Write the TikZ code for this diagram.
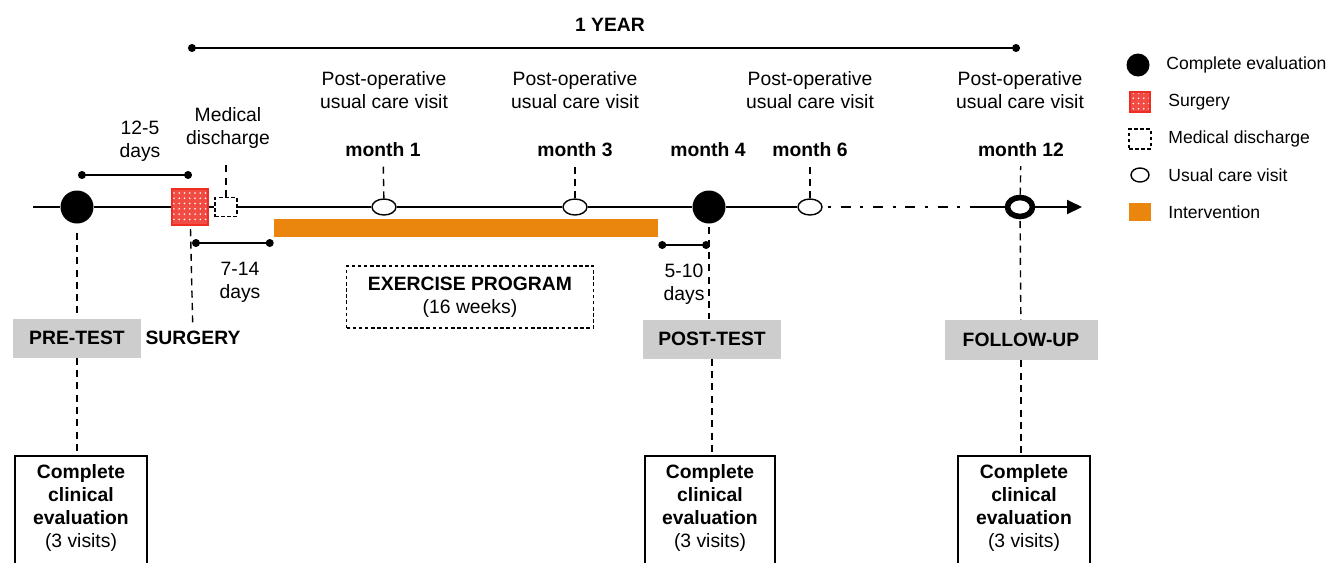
\documentclass[tikz,border=0pt]{standalone}
\usepackage{fontspec}
\setmainfont{Liberation Sans}
\usepackage{xcolor}
\usetikzlibrary{arrows.meta, patterns, shapes, positioning}
\definecolor{barorange}{RGB}{234,134,14}
\definecolor{phasegray}{RGB}{205,205,205}
\definecolor{surgred}{RGB}{238,45,35}
\newcommand{\bodyfont}{\fontsize{11}{13}\selectfont}
\newcommand{\legfont}{\fontsize{10}{12}\selectfont}

\begin{document}
\begin{tikzpicture}[x=0.02cm, y=-0.02cm,
    timeline/.style={line width=1.1pt},
    span/.style={line width=0.8pt, {Circle[length=4.5pt]}-{Circle[length=4.5pt]}},
    drop/.style={line width=0.8pt, dash pattern=on 4pt off 3pt},
    evalpt/.style={circle, fill=black, minimum size=0.66cm, inner sep=0},
    visit/.style={ellipse, draw, fill=white, line width=0.8pt, minimum width=0.48cm, minimum height=0.32cm, inner sep=0},
    surgbox/.style={rectangle, draw=surgred, line width=0.8pt, preaction={fill=surgred!85}, pattern=dots, pattern color=white, minimum size=0.72cm, inner sep=0},
    dischbox/.style={rectangle, draw, fill=white, line width=0.7pt, dash pattern=on 2pt off 1.5pt, minimum width=0.44cm, minimum height=0.38cm, inner sep=0},
    txt/.style={font=\bodyfont, align=center, inner sep=1pt},
    month/.style={font=\bodyfont\bfseries, inner sep=2pt},
    phase/.style={fill=phasegray, font=\bodyfont\bfseries, minimum height=0.78cm, inner sep=0},
    evalbox/.style={draw, line width=1pt, anchor=north, minimum width=2.64cm, font=\bodyfont\bfseries, align=center, inner ysep=5pt, text depth=1cm},
    legtxt/.style={font=\legfont, anchor=west, inner sep=0}]
    \useasboundingbox (0,0) rectangle (1328,562);

    % One year span
    \node[font=\bodyfont\bfseries] (year) at (610,25) {1 YEAR};
    \coordinate (yl) at (188,48);
    \coordinate (yr) at (1020,48);
    \draw[span] (yl) -- (yr);

    % Points on the time line
    \coordinate (tstart) at (33,207);
    \node[evalpt] (pre) at (77,207) {};
    \node[surgbox] (surg) at (190,207) {};
    \node[dischbox] (dis) at (226,207) {};
    \node[visit] (v1) at (384,207) {};
    \node[visit] (v3) at (575,207) {};
    \node[evalpt] (m4) at (709,207) {};
    \node[visit] (v6) at (810,207) {};
    \coordinate (dashend) at (973,207);
    \node[visit, line width=3.2pt, minimum width=0.5cm, minimum height=0.38cm] (m12) at (1020,207) {};
    \coordinate (tend) at (1082,207);

    % Time line
    \foreach \a/\b in {tstart/pre, pre/surg, surg/dis, dis/v1, v1/v3, v3/m4, m4/v6, dashend/m12} {
        \draw[timeline] (\a) -- (\b);
    }
    \draw[timeline, shorten <=3pt, dash pattern=on 1.7pt off 5.5pt on 5.7pt off 5.5pt] (v6) -- (dashend);
    \draw[timeline, -{Triangle[length=0.3cm, width=0.28cm]}] (m12) -- (tend);

    % Intervention bar
    \node[fill=barorange, minimum width=7.68cm, minimum height=0.36cm, inner sep=0] (interv) at (466,228) {};

    % Labels above the time line
    \node[txt] (lpre) at (140,141) {12-5\\days};
    \node[txt] (ldis) at (228,128) {Medical\\discharge};
    \foreach \n/\x in {v1/384, v3/575, v6/810, m12/1020} {
        \node[txt] (p\n) at (\x,90) {Post-operative\\usual care visit};
    }
    \node[month] (lm1) at (383,150) {month 1};
    \node[month] (lm3) at (575,150) {month 3};
    \node[month] (lm4) at (708,150) {month 4};
    \node[month] (lm6) at (810,150) {month 6};
    \node[month] (lm12) at (1021,150) {month 12};

    % Ticks above the visits
    \coordinate (distop) at (226,165);
    \draw[drop] (dis) -- (distop);
    \draw[drop, shorten >=3pt] (v1) -- (lm1);
    \draw[drop, shorten >=3pt] (v3) -- (lm3);
    \draw[drop, shorten >=3pt] (v6) -- (lm6);
    \draw[drop, shorten >=3pt] (m12) -- (lm12);

    % Intervals in days
    \coordinate (b1l) at (78,175);
    \coordinate (b1r) at (192,175);
    \draw[span] (b1l) -- (b1r);
    \coordinate (b2l) at (192,243);
    \coordinate (b2r) at (interv.west |- 0,243);
    \draw[span] (b2l) -- (b2r);
    \coordinate (b3l) at (interv.east |- 0,245);
    \coordinate (b3r) at (710,245);
    \draw[span] (b3l) -- (b3r);
    \node[txt] (l714) at (240,282) {7-14\\days};
    \node[txt] (l510) at (684,284) {5-10\\days};

    % Exercise program
    \node[draw, line width=0.6pt, dash pattern=on 2pt off 1.5pt, txt, minimum width=4.94cm, minimum height=1.24cm] (prog) at (470,297) {\textbf{EXERCISE PROGRAM}\\(16 weeks)};

    % Phases
    \node[phase, minimum width=2.58cm] (pretest) at (77,338) {PRE-TEST};
    \node[font=\bodyfont\bfseries, inner sep=2pt] (surgtxt) at (193,338) {SURGERY};
    \node[phase, minimum width=2.76cm] (posttest) at (712,339) {POST-TEST};
    \node[phase, minimum width=3.06cm, minimum height=0.8cm] (followup) at (1021,340) {FOLLOW-UP};

    % Complete clinical evaluations
    \node[evalbox] (eval1) at (81,455) {Complete\\clinical\\evaluation\\\mdseries(3 visits)};
    \node[evalbox, minimum width=2.6cm] (eval2) at (710,455) {Complete\\clinical\\evaluation\\\mdseries(3 visits)};
    \node[evalbox] (eval3) at (1024,455) {Complete\\clinical\\evaluation\\\mdseries(3 visits)};

    % Dashed drops
    \draw[drop, shorten <=5pt] (pre) -- (pretest);
    \draw[drop] (pretest) -- (pretest |- eval1.north);
    \draw[drop, shorten <=2pt] (surg) -- (surgtxt);
    \draw[drop, shorten <=2pt] (m4) -- (m4 |- posttest.north);
    \draw[drop] (posttest) -- (posttest |- eval2.north);
    \draw[drop, shorten <=1pt] (m12) -- (followup);
    \draw[drop] (followup) -- (followup |- eval3.north);

    % Legend
    \node[evalpt, minimum size=0.46cm] (lg1) at (1138,65) {};
    \node[surgbox, minimum size=0.4cm] (lg2) at (1140,102) {};
    \node[dischbox, minimum width=0.44cm, minimum height=0.4cm] (lg3) at (1140,139) {};
    \node[visit, minimum width=0.36cm, minimum height=0.28cm] (lg4) at (1140,175) {};
    \node[fill=barorange, minimum width=0.44cm, minimum height=0.36cm, inner sep=0] (lg5) at (1140,212) {};
    \node[legtxt] (lt1) at (1166,65) {Complete evaluation};
    \node[legtxt] (lt2) at (1168,102) {Surgery};
    \node[legtxt] (lt3) at (1168,139) {Medical discharge};
    \node[legtxt] (lt4) at (1168,175) {Usual care visit};
    \node[legtxt] (lt5) at (1168,212) {Intervention};
\end{tikzpicture}
\end{document}
